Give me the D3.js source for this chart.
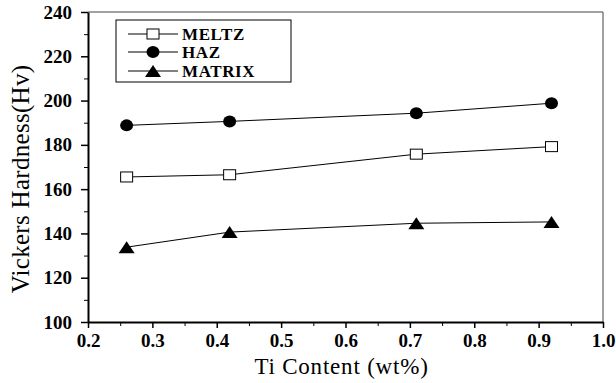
<!DOCTYPE html>
<html>
<head>
<meta charset="utf-8">
<script src="https://cdn.jsdelivr.net/npm/d3@7"></script>
<style>
  body { margin: 0; background: #fff; }
</style>
</head>
<body>
<div id="my_dataviz"></div>
<script>
// data
const tiContent = [0.26, 0.42, 0.71, 0.92];
const meltz = [165.5, 166.5, 175.8, 179.2];
const haz = [188.8, 190.6, 194.3, 198.8];
const matrix = [133.8, 140.6, 144.6, 145.2];
const seriesNames = ["MELTZ", "HAZ", "MATRIX"];
const xTicks = [0.2, 0.3, 0.4, 0.5, 0.6, 0.7, 0.8, 0.9, 1.0];
const yTicks = [100, 120, 140, 160, 180, 200, 220, 240];

const serif = "'Liberation Serif', 'Times New Roman', Times, 'DejaVu Serif', serif";

// set the dimensions and margins of the graph
const margin = { top: 12, right: 13, bottom: 61, left: 88 },
	width = 616 - margin.left - margin.right,
	height = 383 - margin.top - margin.bottom;

const svg = d3.select("#my_dataviz")
	.append("svg")
	.attr("width", 616)
	.attr("height", 383)
	.append("g")
	.attr("transform", `translate(${margin.left},${margin.top})`);

const x = d3.scaleLinear().domain([0.2, 1.0]).range([0, width]);
const y = d3.scaleLinear().domain([100, 240]).range([height, 0]);

// frame (top + right are lighter)
svg.append("line").attr("x1", 0).attr("x2", width).attr("y1", 0).attr("y2", 0)
	.attr("stroke", "#444").attr("stroke-width", 1);
svg.append("line").attr("x1", width).attr("x2", width).attr("y1", 0).attr("y2", height)
	.attr("stroke", "#444").attr("stroke-width", 1);

// minor ticks
svg.append("g")
	.attr("transform", `translate(0, ${height})`)
	.call(d3.axisBottom(x).tickValues(d3.range(0.25, 1.0, 0.1)).tickSize(4).tickFormat(""))
	.call(g => g.select(".domain").remove());
svg.append("g")
	.call(d3.axisLeft(y).tickValues(d3.range(110, 240, 20)).tickSize(4).tickFormat(""))
	.call(g => g.select(".domain").remove());

// X axis
svg.append("g")
	.attr("transform", `translate(0, ${height})`)
	.call(d3.axisBottom(x).tickValues(xTicks).tickSize(6).tickSizeOuter(0).tickPadding(6).tickFormat(d3.format(".1f")))
	.call(g => g.select(".domain").attr("stroke-width", 2))
	.call(g => g.selectAll(".tick line").attr("stroke-width", 1.5))
	.call(g => g.selectAll("text").style("font-size", "19px").style("font-weight", "bold")
		.style("font-family", serif).attr("fill", "#000"));

// Y axis
svg.append("g")
	.call(d3.axisLeft(y).tickValues(yTicks).tickSize(7).tickSizeOuter(0).tickPadding(9))
	.call(g => g.select(".domain").attr("stroke-width", 2))
	.call(g => g.selectAll(".tick line").attr("stroke-width", 1.5))
	.call(g => g.selectAll("text").style("font-size", "19px").style("font-weight", "bold")
		.style("font-family", serif).attr("fill", "#000"));

// axis titles
svg.append("text")
	.attr("x", width / 2 - 4)
	.attr("y", height + 52)
	.attr("text-anchor", "middle")
	.style("font-family", serif)
	.style("font-size", "23px")
	.style("letter-spacing", "0.8px")
	.text("Ti Content (wt%)");

svg.append("text")
	.attr("transform", `translate(${-margin.left + 29}, ${height / 2 + 12}) rotate(-90)`)
	.attr("text-anchor", "middle")
	.style("font-family", serif)
	.style("font-size", "25px")
	.style("letter-spacing", "0.3px")
	.text("Vickers Hardness(Hv)");

// lines + markers
const series = [
	{ name: seriesNames[0], values: meltz, shape: "square" },
	{ name: seriesNames[1], values: haz, shape: "circle" },
	{ name: seriesNames[2], values: matrix, shape: "triangle" }
];

const line = d3.line()
	.x(d => x(d[0]))
	.y(d => y(d[1]));

function drawMarker(g, shape, cx, cy) {
	if (shape === "square") {
		g.append("rect")
			.attr("x", cx - 6).attr("y", cy - 5)
			.attr("width", 12).attr("height", 10)
			.attr("fill", "#fff").attr("stroke", "#000").attr("stroke-width", 1);
	} else if (shape === "circle") {
		g.append("ellipse")
			.attr("cx", cx).attr("cy", cy)
			.attr("rx", 6.5).attr("ry", 6)
			.attr("fill", "#000");
	} else {
		g.append("path")
			.attr("d", `M${cx - 8},${cy + 6}L${cx + 8},${cy + 6}L${cx},${cy - 6}Z`)
			.attr("fill", "#000");
	}
}

series.forEach(s => {
	const pts = tiContent.map((t, i) => [t, s.values[i]]);
	svg.append("path")
		.datum(pts)
		.attr("fill", "none")
		.attr("stroke", "#000")
		.attr("stroke-width", 1)
		.attr("d", line);
	const mg = svg.append("g");
	pts.forEach(p => drawMarker(mg, s.shape, x(p[0]), y(p[1])));
});

// legend
const legend = svg.append("g")
	.attr("transform", `translate(${116 - margin.left}, ${20 - margin.top})`);

legend.append("rect")
	.attr("x", 0).attr("y", 0)
	.attr("width", 175).attr("height", 62)
	.attr("fill", "#fff").attr("stroke", "#000").attr("stroke-width", 1);

const rowY = [14, 32, 51];
series.forEach((s, i) => {
	legend.append("line")
		.attr("x1", 12).attr("x2", 62)
		.attr("y1", rowY[i]).attr("y2", rowY[i])
		.attr("stroke", "#000");
	drawMarker(legend, s.shape, 37, rowY[i]);
	legend.append("text")
		.attr("x", 66)
		.attr("y", rowY[i])
		.attr("dy", "0.35em")
		.style("font-family", serif)
		.style("font-size", "17px")
		.style("font-weight", "bold")
		.style("letter-spacing", "0.6px")
		.text(s.name);
});
</script>
</body>
</html>
